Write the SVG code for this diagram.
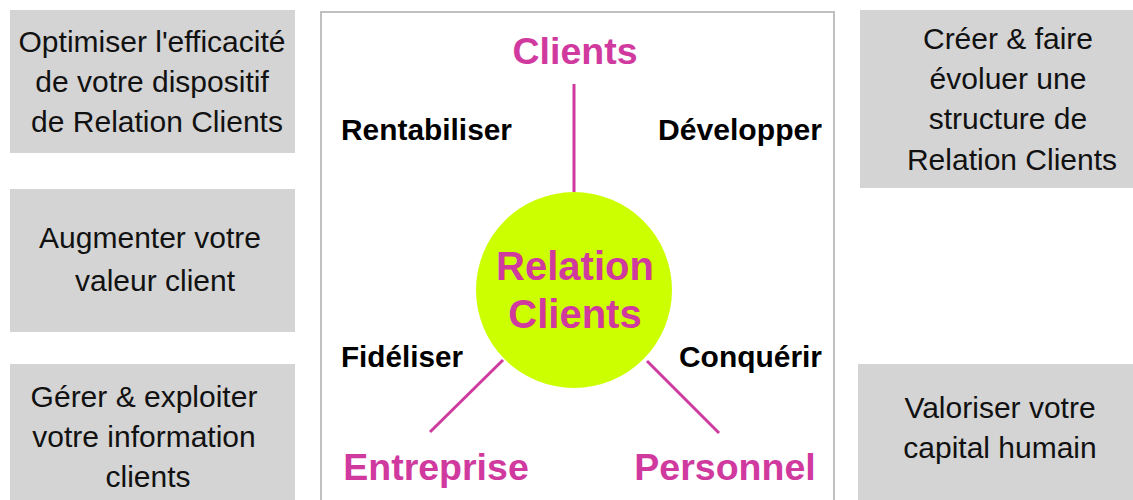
<svg xmlns="http://www.w3.org/2000/svg" width="1133" height="500" viewBox="0 0 1133 500">
<style>
.box{fill:#d4d4d4;}
.bt{font-family:"Liberation Sans",Arial,sans-serif;font-size:30px;fill:#111;text-anchor:middle;}
.lab{font-family:"Liberation Sans",Arial,sans-serif;font-size:29px;font-weight:bold;fill:#000;}
.pole{font-family:"Liberation Sans",Arial,sans-serif;font-size:37.5px;font-weight:bold;fill:#d03a9e;text-anchor:middle;}
.conn{stroke:#d03a9e;stroke-width:3;fill:none;}
</style>
<rect width="1133" height="500" fill="#ffffff"/>
<g id="frame"><rect x="321" y="12" width="513" height="500" fill="none" stroke="#c0c0c0" stroke-width="2"/></g>
<g id="box-optimiser"><rect class="box" x="10" y="10" width="285" height="143"/>
<text class="bt" x="152" y="52">Optimiser l'efficacité</text>
<text class="bt" x="152" y="92">de votre dispositif</text>
<text class="bt" x="157" y="132">de Relation Clients</text></g>
<g id="box-augmenter"><rect class="box" x="10" y="189" width="285" height="143"/>
<text class="bt" x="150" y="248">Augmenter votre</text>
<text class="bt" x="155" y="291">valeur client</text></g>
<g id="box-gerer"><rect class="box" x="10" y="364" width="285" height="146"/>
<text class="bt" x="144" y="407">Gérer &amp; exploiter</text>
<text class="bt" x="144" y="447">votre information</text>
<text class="bt" x="148" y="487">clients</text></g>
<g id="box-creer"><rect class="box" x="860" y="10" width="280" height="178"/>
<text class="bt" x="1008" y="49">Créer &amp; faire</text>
<text class="bt" x="1008" y="89">évoluer une</text>
<text class="bt" x="1008" y="129">structure de</text>
<text class="bt" x="1012" y="170">Relation Clients</text></g>
<g id="box-valoriser"><rect class="box" x="858" y="364" width="280" height="146"/>
<text class="bt" x="1000" y="418">Valoriser votre</text>
<text class="bt" x="1000" y="458">capital humain</text></g>
<g id="connectors">
<line class="conn" x1="574" y1="84" x2="574" y2="192"/>
<line class="conn" x1="503" y1="360" x2="430" y2="432"/>
<line class="conn" x1="647" y1="361" x2="719" y2="433"/>
</g>
<g id="center"><circle cx="574" cy="290" r="98" fill="#ccff00"/>
<text class="pole" x="575" y="280" style="font-size:40px">Relation</text>
<text class="pole" x="575" y="328" style="font-size:40px">Clients</text></g>
<g id="clients"><text class="pole" x="575" y="64">Clients</text></g>
<g id="entreprise"><text class="pole" x="436" y="480">Entreprise</text></g>
<g id="personnel"><text class="pole" x="725" y="480">Personnel</text></g>
<g id="labels">
<text class="lab" x="341" y="140" textLength="171" lengthAdjust="spacingAndGlyphs">Rentabiliser</text>
<text class="lab" x="658" y="140" textLength="164" lengthAdjust="spacingAndGlyphs">Développer</text>
<text class="lab" x="341" y="367" textLength="122" lengthAdjust="spacingAndGlyphs">Fidéliser</text>
<text class="lab" x="679" y="367" textLength="143" lengthAdjust="spacingAndGlyphs">Conquérir</text>
</g>
</svg>
